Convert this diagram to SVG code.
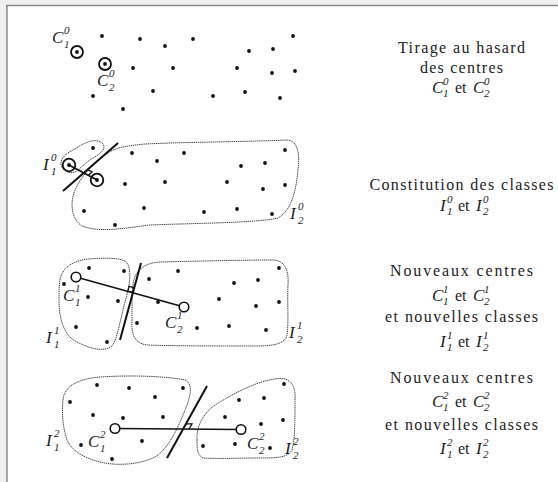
<svg xmlns="http://www.w3.org/2000/svg" width="558" height="482" viewBox="0 0 558 482">
<defs>
<style>
.pt{fill:#111}
.ring{fill:none;stroke:#111;stroke-width:1.8}
.oc{fill:#fff;stroke:#111;stroke-width:1.6}
.hull{fill:none;stroke:#444;stroke-width:1;stroke-dasharray:1.4 0.7}
.sep{stroke:#111;stroke-width:2;fill:none}
.seg{stroke:#111;stroke-width:1.6;fill:none}
.ra{stroke:#111;stroke-width:1.3;fill:none}
.m{font-family:"Liberation Serif",serif;font-style:italic;font-size:17px;fill:#222}
.s{font-family:"Liberation Serif",serif;font-style:italic;font-size:11px;fill:#222}
.t{font-family:"Liberation Serif",serif;font-size:16px;fill:#222;text-anchor:middle}
.e{font-family:"Liberation Serif",serif;font-size:16px;fill:#222}
</style>
</defs>
<rect x="0" y="0" width="558" height="482" fill="#eff0f2"/>
<rect x="7" y="6" width="551" height="476" fill="#fff"/>
<line x1="6" y1="5.5" x2="558" y2="5.5" stroke="#8a8a8a" stroke-width="1.6"/>
<line x1="7" y1="5" x2="7" y2="482" stroke="#808080" stroke-width="1.4"/>

<!-- Panel 1 -->
<g id="panel1">
<g class="pt">
<circle cx="77" cy="52" r="1.9"/><circle cx="105" cy="64" r="1.9"/>
<circle cx="102" cy="36" r="1.9"/><circle cx="140" cy="39" r="1.9"/><circle cx="165" cy="46" r="1.9"/>
<circle cx="193" cy="39" r="1.9"/><circle cx="293" cy="36" r="1.9"/><circle cx="249" cy="51" r="1.9"/>
<circle cx="273" cy="49" r="1.9"/><circle cx="133" cy="68" r="1.9"/><circle cx="173" cy="68" r="1.9"/>
<circle cx="237" cy="68" r="1.9"/><circle cx="272" cy="73" r="1.9"/><circle cx="295" cy="71" r="1.9"/>
<circle cx="153" cy="91" r="1.9"/><circle cx="93" cy="96" r="1.9"/><circle cx="213" cy="96" r="1.9"/>
<circle cx="245" cy="92" r="1.9"/><circle cx="280" cy="98" r="1.9"/><circle cx="123" cy="109" r="1.9"/>
</g>
<circle class="ring" cx="77" cy="52" r="6"/>
<circle class="ring" cx="105" cy="64" r="6"/>
<text class="m" x="52" y="43">C</text><text class="s" x="64" y="34">0</text><text class="s" x="64" y="48">1</text>
<text class="m" x="97" y="86">C</text><text class="s" x="109" y="77">0</text><text class="s" x="109" y="91">2</text>
</g>

<!-- Panel 2 -->
<g id="panel2">
<path class="hull" d="M62,167 C58,160 66,153 75,149 C85,142 97,137 103,144 C107,150 98,155 90,160 C84,164 80,169 75,172 C69,174 64,171 62,167 Z"/>
<path class="hull" d="M104,156 C112,148 125,146 145,144 C185,142 240,142 287,140 C298,140 300,155 298,170 C296,190 292,210 278,218 C255,223 200,223 150,225 C125,228 100,233 82,226 C70,218 70,200 76,188 C82,175 95,162 104,156 Z"/>
<g class="pt">
<circle cx="69" cy="165" r="1.9"/><circle cx="97" cy="180" r="1.9"/>
<circle cx="93" cy="148" r="1.9"/><circle cx="132" cy="153" r="1.9"/><circle cx="184" cy="153" r="1.9"/>
<circle cx="157" cy="161" r="1.9"/><circle cx="285" cy="150" r="1.9"/><circle cx="265" cy="163" r="1.9"/>
<circle cx="241" cy="166" r="1.9"/><circle cx="125" cy="184" r="1.9"/><circle cx="165" cy="182" r="1.9"/>
<circle cx="227" cy="182" r="1.9"/><circle cx="263" cy="189" r="1.9"/><circle cx="285" cy="185" r="1.9"/>
<circle cx="84" cy="211" r="1.9"/><circle cx="144" cy="208" r="1.9"/><circle cx="204" cy="212" r="1.9"/>
<circle cx="237" cy="209" r="1.9"/><circle cx="272" cy="214" r="1.9"/><circle cx="115" cy="225" r="1.9"/>
</g>
<line class="seg" x1="69" y1="165" x2="97" y2="180"/>
<line class="sep" x1="118" y1="143" x2="63" y2="191"/>
<polyline class="ra" points="88.2,175.2 92,171.9 87.6,169.6"/>
<circle class="ring" cx="69" cy="165" r="6.3"/>
<circle class="ring" cx="97" cy="180" r="6.3"/>
<text class="m" x="43" y="170">I</text><text class="s" x="51" y="161">0</text><text class="s" x="51" y="175">1</text>
<text class="m" x="290" y="219">I</text><text class="s" x="298" y="210">0</text><text class="s" x="298" y="224">2</text>
</g>

<!-- Panel 3 -->
<g id="panel3">
<path class="hull" d="M60,280 C62,268 72,261 88,259 C102,258 120,257 126,262 C132,268 130,285 126,298 C121,315 118,338 112,346 C104,353 86,348 72,339 C62,330 59,315 59,300 C59,292 59,286 60,280 Z"/>
<path class="hull" d="M133,285 C134,272 143,263 160,262 C200,261 250,260 270,260 C285,259 289,270 288,285 C287,300 289,320 287,335 C285,345 270,346 255,346 C220,346 170,346 148,345 C135,344 131,335 132,320 C132,305 132,295 133,285 Z"/>
<g class="pt">
<circle cx="89" cy="268" r="1.9"/><circle cx="124" cy="271" r="1.9"/><circle cx="64" cy="284" r="1.9"/>
<circle cx="88" cy="297" r="1.9"/><circle cx="118" cy="301" r="1.9"/><circle cx="76" cy="327" r="1.9"/>
<circle cx="107" cy="342" r="1.9"/><circle cx="178" cy="271" r="1.9"/><circle cx="279" cy="268" r="1.9"/>
<circle cx="149" cy="279" r="1.9"/><circle cx="234" cy="283" r="1.9"/><circle cx="258" cy="280" r="1.9"/>
<circle cx="158" cy="302" r="1.9"/><circle cx="219" cy="299" r="1.9"/><circle cx="256" cy="306" r="1.9"/>
<circle cx="279" cy="302" r="1.9"/><circle cx="137" cy="323" r="1.9"/><circle cx="197" cy="328" r="1.9"/>
<circle cx="229" cy="326" r="1.9"/><circle cx="266" cy="330" r="1.9"/>
</g>
<line class="sep" x1="141" y1="263" x2="120" y2="340"/>
<line class="seg" x1="76" y1="277" x2="184" y2="307"/>
<polygon class="ra" points="132.6,292.4 127.8,291.1 129.1,286.3 133.9,287.6"/>
<circle class="oc" cx="76" cy="277" r="4.8"/>
<circle class="oc" cx="184" cy="307" r="4.8"/>
<text class="m" x="63" y="301">C</text><text class="s" x="75" y="292">1</text><text class="s" x="75" y="306">1</text>
<text class="m" x="165" y="328">C</text><text class="s" x="177" y="319">1</text><text class="s" x="177" y="333">2</text>
<text class="m" x="46" y="343">I</text><text class="s" x="54" y="334">1</text><text class="s" x="54" y="348">1</text>
<text class="m" x="289" y="338">I</text><text class="s" x="297" y="329">1</text><text class="s" x="297" y="343">2</text>
</g>

<!-- Panel 4 -->
<g id="panel4">
<path class="hull" d="M63,400 C64,388 75,379 100,377 C130,375 165,376 185,380 C194,384 190,398 185,410 C178,428 170,445 158,455 C145,464 120,466 105,463 C88,460 72,452 67,440 C62,425 62,410 63,400 Z"/>
<path class="hull" d="M197,440 C196,425 205,410 220,402 C235,393 255,382 275,379 C290,376 296,385 295,400 C295,420 295,440 292,450 C288,458 275,458 260,458 C240,458 215,459 203,458 C197,455 197,448 197,440 Z"/>
<g class="pt">
<circle cx="97" cy="385" r="1.9"/><circle cx="129" cy="388" r="1.9"/><circle cx="183" cy="388" r="1.9"/>
<circle cx="70" cy="402" r="1.9"/><circle cx="155" cy="397" r="1.9"/><circle cx="93" cy="415" r="1.9"/>
<circle cx="123" cy="418" r="1.9"/><circle cx="163" cy="417" r="1.9"/><circle cx="81" cy="445" r="1.9"/>
<circle cx="142" cy="441" r="1.9"/><circle cx="112" cy="459" r="1.9"/><circle cx="284" cy="384" r="1.9"/>
<circle cx="239" cy="400" r="1.9"/><circle cx="264" cy="398" r="1.9"/><circle cx="225" cy="417" r="1.9"/>
<circle cx="283" cy="420" r="1.9"/><circle cx="261" cy="424" r="1.9"/><circle cx="203" cy="446" r="1.9"/>
<circle cx="235" cy="444" r="1.9"/><circle cx="270" cy="448" r="1.9"/>
</g>
<line class="sep" x1="207" y1="386" x2="167" y2="458"/>
<line class="seg" x1="115" y1="428.5" x2="241" y2="429.5"/>
<polyline class="ra" points="189.1,429 192,423.8 186,423.8"/>
<circle class="oc" cx="115" cy="428.5" r="4.8"/>
<circle class="oc" cx="241" cy="429.5" r="4.8"/>
<text class="m" x="46" y="446">I</text><text class="s" x="54" y="437">2</text><text class="s" x="54" y="451">1</text>
<text class="m" x="88" y="447">C</text><text class="s" x="100" y="438">2</text><text class="s" x="100" y="452">1</text>
<text class="m" x="247" y="449">C</text><text class="s" x="259" y="440">2</text><text class="s" x="259" y="454">2</text>
<text class="m" x="285" y="454">I</text><text class="s" x="293" y="445">2</text><text class="s" x="293" y="459">2</text>
</g>

<!-- Captions -->
<g id="caption1">
<text class="t" x="461.5" y="53" textLength="127" lengthAdjust="spacing">Tirage au hasard</text>
<text class="t" x="461.5" y="73" textLength="83" lengthAdjust="spacing">des centres</text>
<text class="m" x="432" y="93">C</text><text class="s" x="443" y="85">0</text><text class="s" x="443" y="97">1</text>
<text class="e" x="455" y="93">et</text>
<text class="m" x="473" y="93">C</text><text class="s" x="484" y="85">0</text><text class="s" x="484" y="97">2</text>
</g>
<g id="caption2">
<text class="t" x="461.5" y="190" textLength="184" lengthAdjust="spacing">Constitution des classes</text>
<text class="m" x="440" y="211">I</text><text class="s" x="447" y="203">0</text><text class="s" x="447" y="215">1</text>
<text class="e" x="458" y="211">et</text>
<text class="m" x="476" y="211">I</text><text class="s" x="483" y="203">0</text><text class="s" x="483" y="215">2</text>
</g>
<g id="caption3">
<text class="t" x="461.5" y="276" textLength="143" lengthAdjust="spacing">Nouveaux centres</text>
<text class="m" x="432" y="301">C</text><text class="s" x="443" y="293">1</text><text class="s" x="443" y="305">1</text>
<text class="e" x="455" y="301">et</text>
<text class="m" x="473" y="301">C</text><text class="s" x="484" y="293">1</text><text class="s" x="484" y="305">2</text>
<text class="t" x="461.5" y="322" textLength="153" lengthAdjust="spacing">et nouvelles classes</text>
<text class="m" x="440" y="347">I</text><text class="s" x="447" y="339">1</text><text class="s" x="447" y="351">1</text>
<text class="e" x="458" y="347">et</text>
<text class="m" x="476" y="347">I</text><text class="s" x="483" y="339">1</text><text class="s" x="483" y="351">2</text>
</g>
<g id="caption4">
<text class="t" x="461.5" y="383" textLength="143" lengthAdjust="spacing">Nouveaux centres</text>
<text class="m" x="432" y="407">C</text><text class="s" x="443" y="399">2</text><text class="s" x="443" y="411">1</text>
<text class="e" x="455" y="407">et</text>
<text class="m" x="473" y="407">C</text><text class="s" x="484" y="399">2</text><text class="s" x="484" y="411">2</text>
<text class="t" x="461.5" y="430" textLength="153" lengthAdjust="spacing">et nouvelles classes</text>
<text class="m" x="440" y="454">I</text><text class="s" x="447" y="446">2</text><text class="s" x="447" y="458">1</text>
<text class="e" x="458" y="454">et</text>
<text class="m" x="476" y="454">I</text><text class="s" x="483" y="446">2</text><text class="s" x="483" y="458">2</text>
</g>
</svg>
